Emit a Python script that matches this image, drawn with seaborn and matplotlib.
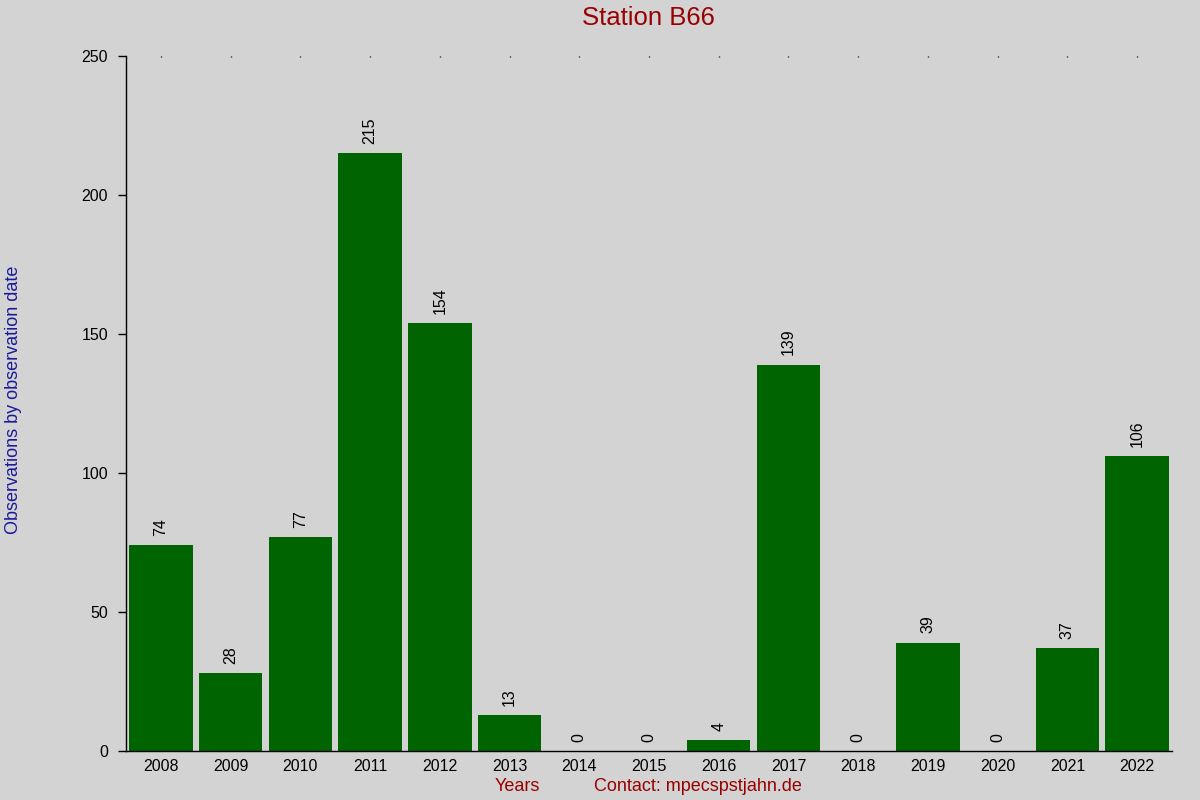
import matplotlib
matplotlib.use("Agg")
import matplotlib.pyplot as plt
import seaborn as sns
import pandas as pd

years = ['2008', '2009', '2010', '2011', '2012', '2013', '2014', '2015',
         '2016', '2017', '2018', '2019', '2020', '2021', '2022']
counts = [74, 28, 77, 215, 154, 13, 0, 0, 4, 139, 0, 39, 0, 37, 106]

df = pd.DataFrame({'year': years, 'count': counts})

sns.set_style('ticks', {'axes.edgecolor': 'black', 'xtick.color': 'black',
                        'ytick.color': 'black', 'text.color': 'black'})
plt.rcParams['font.family'] = ['Liberation Sans', 'DejaVu Sans']

bg = '#d3d3d3'
fig = plt.figure(figsize=(12, 8), dpi=100, facecolor=bg)
ax = fig.add_axes([0.105, 0.06125, 0.8717, 0.86875])
ax.set_facecolor(bg)

sns.barplot(data=df, x='year', y='count', color='#006400', saturation=1,
            width=0.91, linewidth=0, edgecolor='none', ax=ax)

ax.set_xlim(-0.5, len(years) - 0.5)
ax.set_ylim(0, 250)
ax.set_yticks([0, 50, 100, 150, 200, 250])

for i, v in enumerate(counts):
    ax.text(i, v + 3.3, str(v), rotation=90, ha='center', va='bottom',
            fontsize=11.5, color='black')

sns.despine(ax=ax, top=True, right=True)
ax.spines['left'].set_linewidth(1)
ax.spines['bottom'].set_linewidth(1)
ax.tick_params(axis='y', length=6, width=1, pad=7, labelsize=11.5,
               colors='black')
ax.tick_params(axis='x', bottom=False, top=True, length=1, width=1,
               direction='in', pad=6, labelsize=11.5, colors='black')
ax.set_xlabel('')
ax.set_ylabel('')

fig.text(0.54, 0.977, 'Station B66', ha='center', va='center',
         fontsize=18.5, color='#990000')
fig.text(0.0115, 0.5, 'Observations by observation date', rotation=90,
         ha='center', va='center', fontsize=13, color='#1a1a99')
fig.text(0.431, 0.017, 'Years', ha='center', va='center',
         fontsize=13, color='#990000')
fig.text(0.582, 0.017, 'Contact: mpecspstjahn.de', ha='center', va='center',
         fontsize=13, color='#990000')

fig.savefig('out.png', dpi=100, facecolor=bg)
